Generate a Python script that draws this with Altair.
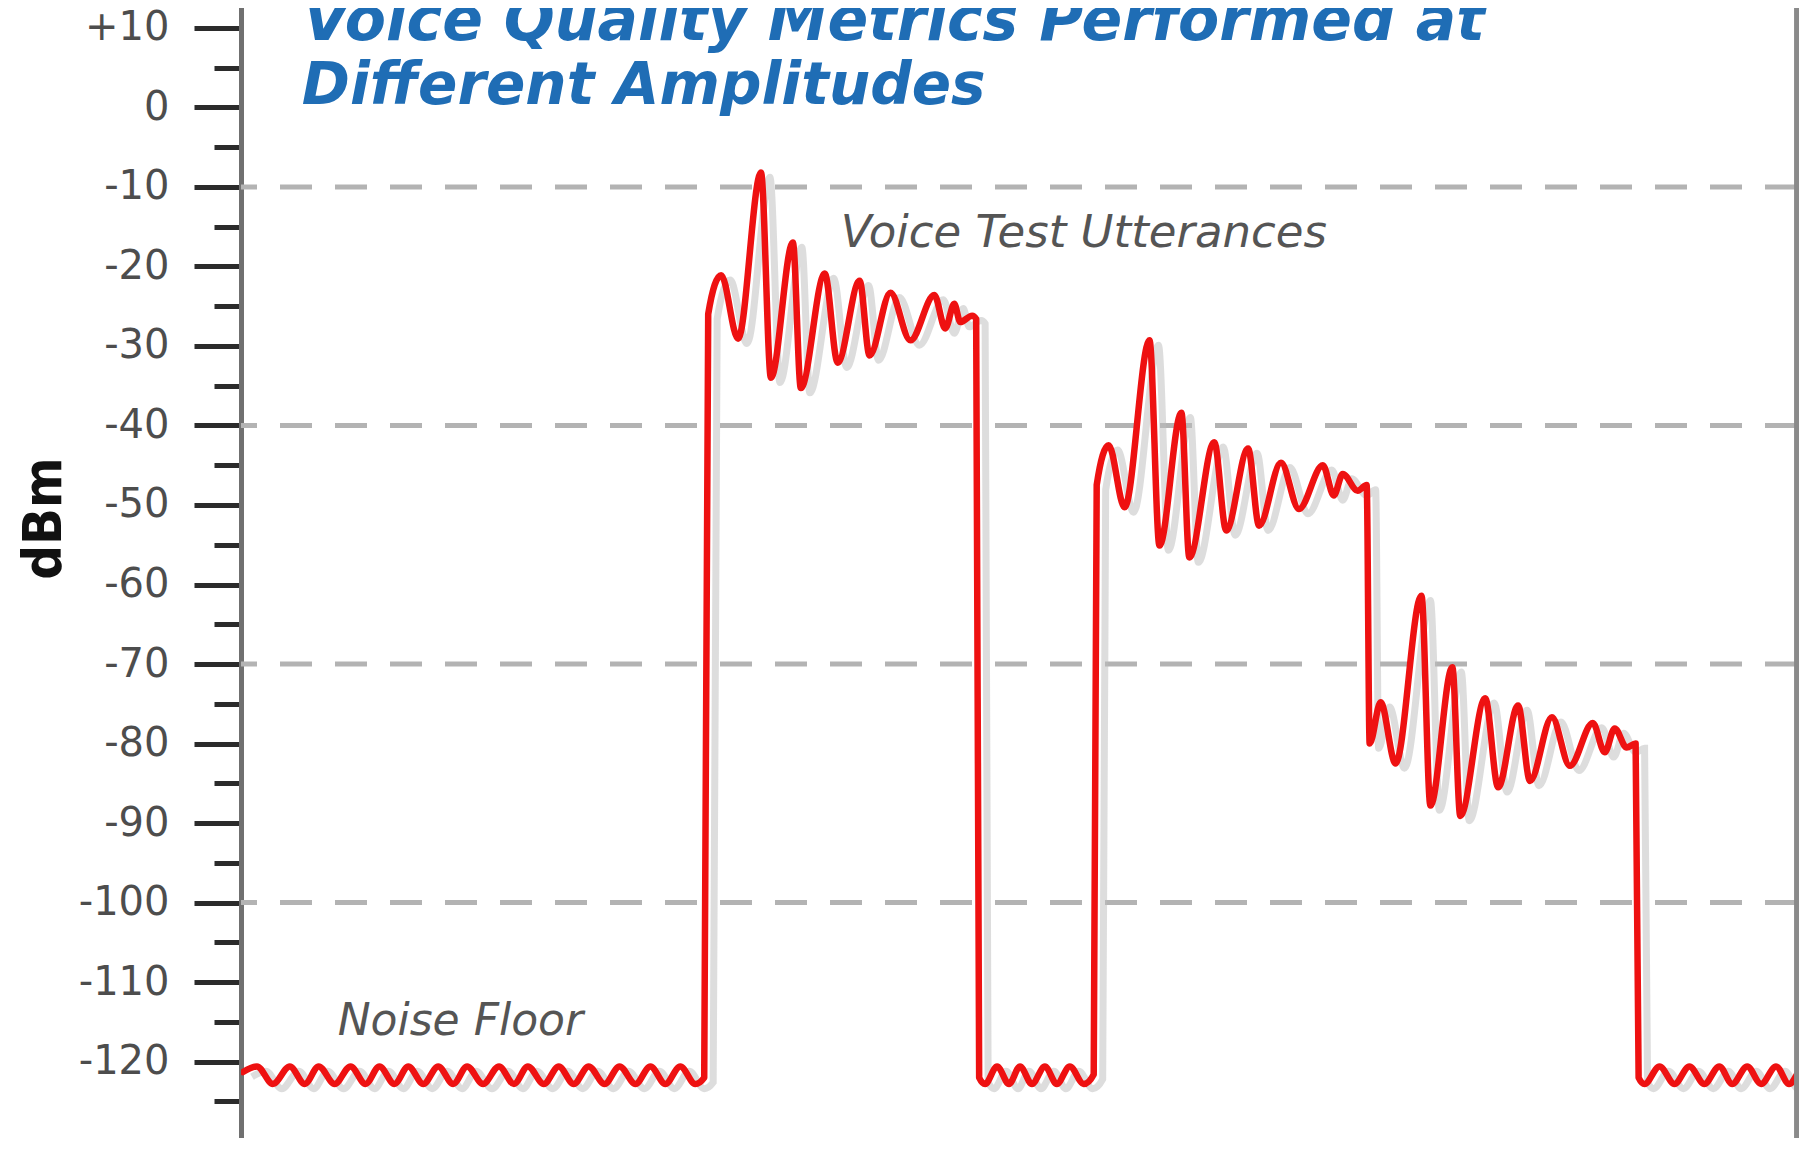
import altair as alt
import pandas as pd

# Signal trace: time (sample units) and level (dBm)
t = [2, 16, 32, 49, 64, 78, 94, 110, 125, 139, 154, 168, 183, 198, 213, 227,
     243, 259, 274, 288, 304, 319, 334, 349, 365, 380, 396, 411, 426, 441,
     456, 465, 469,
     482, 499, 522, 532, 554, 562, 586, 599, 621, 631, 652, 672, 696, 707,
     716, 722, 734, 738, 741,
     747, 759, 771, 782, 794, 807, 819, 832, 846, 856, 859,
     871, 887, 912, 922, 944, 952, 977, 989, 1011, 1022, 1044, 1062, 1086,
     1097, 1106, 1121, 1130, 1133,
     1144, 1159, 1185, 1194, 1216, 1224, 1249, 1262, 1282, 1294, 1316, 1334,
     1357, 1369, 1379, 1391, 1400, 1403,
     1409, 1424, 1439, 1454, 1469, 1484, 1497, 1512, 1526, 1541, 1554, 1562]
dbm = [-121.3, -120.6, -122.8, -120.6, -122.8, -120.6, -122.8, -120.6, -122.8,
       -120.6, -122.8, -120.6, -122.8, -120.6, -122.8, -120.6,
       -122.8, -120.6, -122.8, -120.6, -122.8, -120.6, -122.8, -120.6, -122.8,
       -120.6, -122.8, -120.6, -122.8, -120.6,
       -122.8, -122.0, -26.0,
       -21.1, -29.1, -8.2, -34.0, -17.0, -35.3, -20.9, -32.1, -21.8, -31.2,
       -23.3, -29.3, -23.6, -27.8, -24.7, -27.0, -26.2, -26.6, -122.0,
       -122.8, -120.6, -122.8, -120.6, -122.8, -120.6, -122.8, -120.6, -122.8,
       -121.6, -47.5,
       -42.5, -50.3, -29.3, -55.1, -38.4, -56.6, -42.1, -53.2, -42.9, -52.6,
       -44.7, -50.5, -45.0, -48.8, -46.1, -48.2, -47.5, -80.0,
       -74.8, -82.5, -61.4, -87.8, -70.4, -89.1, -74.3, -85.5, -75.2, -84.7,
       -76.7, -82.8, -77.4, -81.1, -78.1, -80.5, -80.0, -122.0,
       -122.8, -120.6, -122.8, -120.6, -122.8, -120.6, -122.8, -120.6, -122.8,
       -120.6, -122.8, -121.6]

grid_levels = [-10, -40, -70, -100]
major_ticks = [-120, -110, -100, -90, -80, -70, -60, -50, -40, -30, -20, -10, 0, 10]
minor_ticks = [-125, -115, -105, -95, -85, -75, -65, -55, -45, -35, -25, -15, -5, 5]
title_lines = ["Voice Quality Metrics Performed at", "Different Amplitudes"]
notes = ["Voice Test Utterances", "Noise Floor"]

df = pd.DataFrame({"t": t, "dbm": dbm})
grid_df = pd.DataFrame({"level": grid_levels})

XS = alt.Scale(domain=[0, 1562], nice=False, zero=False)
YS = alt.Scale(domain=[-129.6, 13.5], nice=False, zero=False)

major_axis = alt.Axis(
    orient="left", values=major_ticks, grid=False,
    tickSize=47, tickWidth=5, tickColor="#2b2b2b",
    domainColor="#707070", domainWidth=5,
    labelFont="DejaVu Sans", labelFontSize=40, labelColor="#4d4d4d",
    labelPadding=25,
    labelExpr="(datum.value > 0 ? '+' : (datum.value < 0 ? '-' : '')) + abs(datum.value)",
    title="dBm", titleFont="'DejaVu Sans Condensed', 'Liberation Sans', sans-serif",
    titleFontSize=54, titleFontWeight="bold", titleColor="#111111", titleAngle=270,
    titleX=-197, titleY=518, titleAlign="center", titleBaseline="middle",
)
minor_axis = alt.Axis(
    orient="left", values=minor_ticks, grid=False, labels=False, domain=False,
    tickSize=27, tickWidth=5, tickColor="#2b2b2b", title="",
)

grid = alt.Chart(grid_df).mark_rule(
    strokeDash=[32, 23], strokeWidth=5, color="#b3b3b3"
).encode(y=alt.Y("level:Q", scale=YS, axis=minor_axis))

base = alt.Chart(df)
shadow = base.transform_calculate(
    ts="datum.t + 9", ds="datum.dbm - 0.6"
).mark_line(
    interpolate="monotone", color="#bcbcbc", strokeWidth=7, opacity=0.5, clip=True
).encode(
    x=alt.X("ts:Q", scale=XS, axis=None),
    y=alt.Y("ds:Q", scale=YS, axis=None),
)
line = base.mark_line(
    interpolate="monotone", color="#ee1111", strokeWidth=6.5,
    strokeCap="round", strokeJoin="round", clip=True
).encode(
    x=alt.X("t:Q", scale=XS, axis=None),
    y=alt.Y("dbm:Q", scale=YS, axis=major_axis),
)

border = alt.Chart(grid_df).mark_rule(color="#8a8a8a", strokeWidth=5).encode(
    x=alt.XDatum(1562, scale=XS, axis=None)
)

def label(txt, xv, yv, size, color, weight="normal"):
    return alt.Chart(grid_df).transform_filter("datum.level == -10").mark_text(
        font="DejaVu Sans", fontStyle="italic", fontWeight=weight, fontSize=size,
        color=color, align="left", baseline="alphabetic"
    ).encode(
        x=alt.XDatum(xv, scale=XS, axis=None),
        y=alt.YDatum(yv, scale=YS, axis=None),
        text=alt.value(txt),
    )

t1 = label(title_lines[0], 62, 8.5, 60, "#1f6db5", "bold")
t2 = label(title_lines[1], 61, 0.45, 58, "#1f6db5", "bold")
n1 = label(notes[0], 602, -17.6, 45, "#555555")
n2 = label(notes[1], 97, -116.6, 44, "#555555")

chart = alt.layer(grid, shadow, line, border, t1, t2, n1, n2).resolve_axis(
    y="independent"
).properties(
    width=1556, height=1138,
    autosize=alt.AutoSizeParams(type="none"),
    padding={"left": 233, "top": -8, "right": 2, "bottom": 0},
    background="white",
).configure_view(stroke=None)

chart.save("out.html", embed_options={"renderer": "svg", "actions": False})
